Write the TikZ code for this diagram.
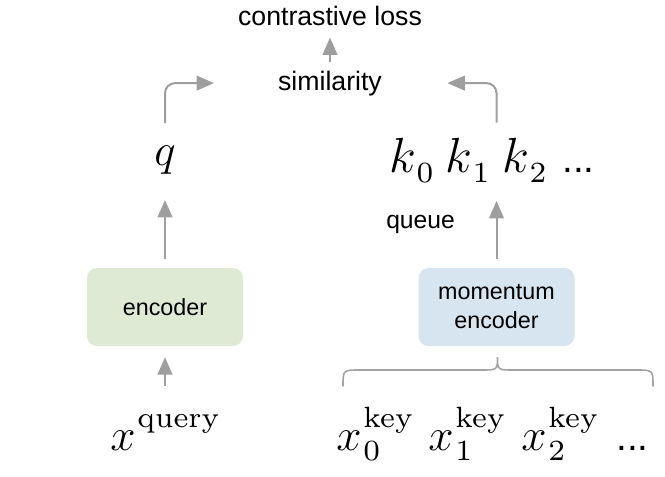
\RequirePackage{fix-cm}
\documentclass[tikz,border=0pt]{standalone}
\usepackage{fontspec}
\newfontfamily\arialf{Liberation Sans}
\usetikzlibrary{arrows.meta}
\definecolor{arrgray}{HTML}{9E9E9E}
\definecolor{bracegray}{HTML}{A3A3A3}
\definecolor{encgreen}{HTML}{DFEAD4}
\definecolor{encblue}{HTML}{D6E5F0}
\font\mykeyf=cmr7 at 22pt
\font\myksubf=cmr7 at 22pt
\newcommand\myxss[2]{$x$\kern1.5pt\rlap{\raisebox{17pt}{\mykeyf #1}}\raisebox{-7.5pt}{\mykeyf #2}}
\newcommand\myks[1]{$k$\kern0.5pt\raisebox{-7.5pt}{\myksubf #1}}
\begin{document}
\begin{tikzpicture}[x=0.75pt,y=-0.75pt,
  lbl/.style={font=\arialf\fontsize{20}{24}\selectfont, inner sep=0pt},
  qlbl/.style={font=\arialf\fontsize{18.5}{22}\selectfont, inner sep=0pt},
  dots/.style={font=\arialf\fontsize{29}{34}\selectfont, inner sep=0pt},
  mth/.style={font=\fontsize{34}{40}\selectfont, inner sep=0pt},
  kmth/.style={font=\fontsize{37}{44}\selectfont, inner sep=0pt},
  arr/.style={draw=arrgray, line width=1.5pt, -{Triangle[length=13pt,width=11pt]}},
  encbox/.style={rounded corners=7.5pt, minimum width=117pt, minimum height=58.5pt,
    inner sep=0pt, align=center, font=\arialf\fontsize{17.5}{21.75}\selectfont}
]
\useasboundingbox (0,0) rectangle (665,476);

% labels
\node[lbl, anchor=base] (loss) at (330,25) {contrastive loss};
\node[lbl, anchor=base] (sim) at (330,90) {similarity};

% query side
\node[mth, anchor=base] (q) at (165,165) {$q$};
\node[encbox, fill=encgreen] (enc) at (165,307) {encoder};
\node[mth, anchor=base west] (xq) at (110,450) {$x$\kern1.5pt\raisebox{17pt}{\mykeyf query}};

% key side
\node[kmth, anchor=base west] (k0) at (389,172) {\myks{0}};
\node[kmth, anchor=base west] (k1) at (445,172) {\myks{1}};
\node[kmth, anchor=base west] (k2) at (502,172) {\myks{2}};
\node[dots, anchor=base west] (kd) at (562,172) {...};
\node[qlbl, anchor=base west] (queue) at (386,228) {queue};
\node[encbox, fill=encblue] (menc) at (496.5,307) {momentum\\encoder};

\node[mth, anchor=base west] (x0) at (336,450) {\myxss{key}{0}};
\node[mth, anchor=base west] (x1) at (428,450) {\myxss{key}{1}};
\node[mth, anchor=base west] (x2) at (521,450) {\myxss{key}{2}};
\node[dots, anchor=base west] (xd) at (616,450) {...};

% brace
\draw[bracegray, line width=1.2pt, line cap=round]
  (343,386) .. controls (343,370) .. (360,370) -- (481,370)
  .. controls (497.5,370) .. (497.5,357)
  .. controls (497.5,370) .. (514,370)
  -- (636,370) .. controls (653,370) .. (653,386);

% connectors
\draw[arr, shorten <=6pt, shorten >=9pt] (sim.north) -- (loss.south);
\draw[arr, rounded corners=7.5pt, shorten <=31.5pt, shorten >=48pt] (q.base) |- (sim.west);
\draw[arr, rounded corners=7.5pt, shorten <=37pt, shorten >=49pt] (menc.north |- k1.base) |- (sim.east);
\draw[arr, shorten <=6.75pt, shorten >=26.25pt] (enc.north) -- (q.base);
\draw[arr, shorten <=6.75pt, shorten >=21.75pt] (menc.north) -- (menc.north |- k1.base);
\draw[arr, shorten <=48pt, shorten >=8.25pt] (enc.south |- xq.base) -- (enc.south);
\end{tikzpicture}
\end{document}
